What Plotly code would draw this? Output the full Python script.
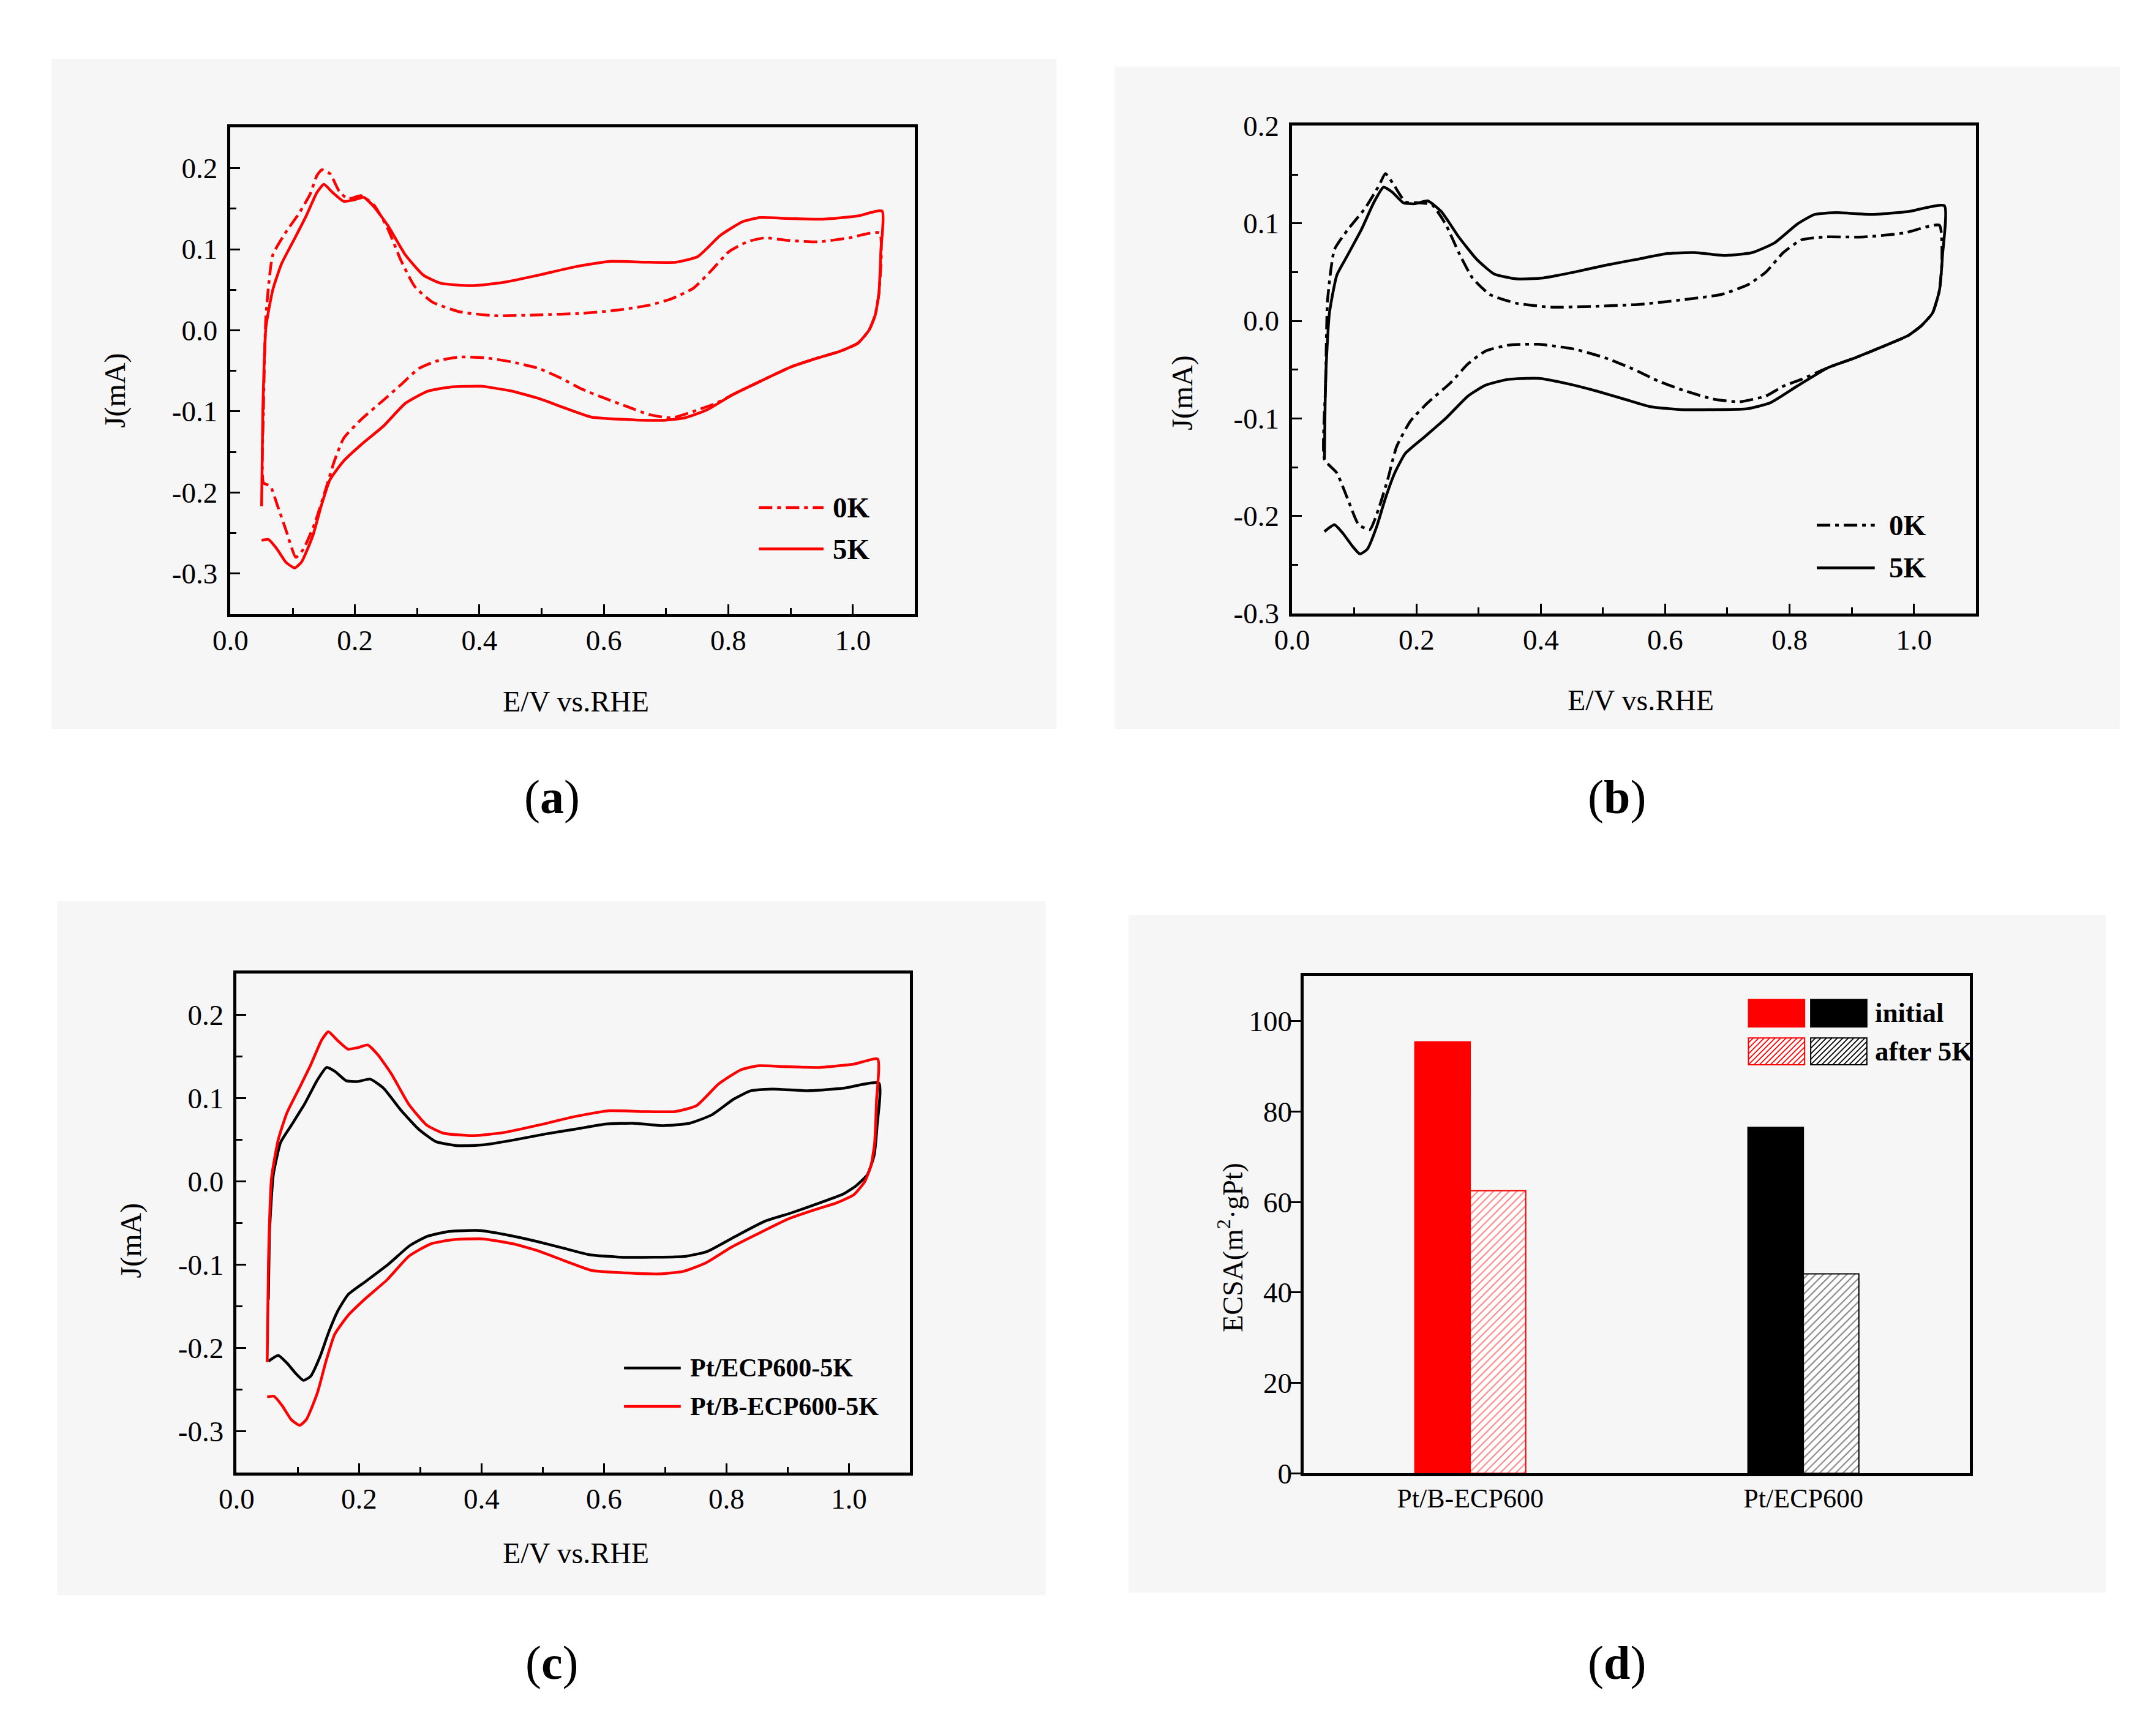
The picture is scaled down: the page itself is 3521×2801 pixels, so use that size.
import plotly.graph_objects as go

# figure size; the page body keeps its default 8px margin
W, H = 3505, 2785
OFF = 8
# measured shift/scale between figure pixels and the captured picture
SX, BX = 0.9953, 24.4
SY, BY = 0.9867, 20.8
FONT = "Liberation Serif"

RED = "#ff0000"
BLACK = "#000000"
DASHDOT = "22px,8px,6px,8px"


def px_x(x):
    return ((x - BX) / SX - OFF) / W


def px_y(y):
    return 1 - ((y - BY) / SY - OFF) / H


# ---------------- data ----------------
# (a) red sample, 0K (dash-dot) and 5K (solid), anodic then cathodic sweep
a_0k_up_E = [0.053, 0.053, 0.057, 0.068, 0.089, 0.110, 0.128, 0.139, 0.147, 0.160,
             0.175, 0.189, 0.210, 0.231, 0.253, 0.274, 0.296, 0.324, 0.367, 0.424,
             0.495, 0.566, 0.623, 0.673, 0.709, 0.744, 0.773, 0.801, 0.830, 0.858,
             0.894, 0.944, 0.994, 1.043]
a_0k_up_J = [-0.188, -0.098, 0.018, 0.093, 0.121, 0.144, 0.168, 0.191, 0.198, 0.193,
             0.171, 0.162, 0.166, 0.154, 0.125, 0.086, 0.054, 0.035, 0.023, 0.018,
             0.019, 0.021, 0.025, 0.031, 0.039, 0.052, 0.074, 0.097, 0.109, 0.114,
             0.111, 0.109, 0.114, 0.120]
a_0k_dn_E = [1.042, 1.036, 1.026, 1.008, 0.979, 0.944, 0.901, 0.851, 0.808, 0.780,
             0.744, 0.709, 0.673, 0.637, 0.602, 0.566, 0.531, 0.495, 0.452, 0.410,
             0.367, 0.331, 0.303, 0.274, 0.246, 0.210, 0.182, 0.167, 0.153, 0.135,
             0.117, 0.105, 0.089, 0.075, 0.064, 0.053]
a_0k_dn_J = [0.046, 0.019, 0.000, -0.016, -0.026, -0.034, -0.045, -0.063, -0.079, -0.090,
             -0.100, -0.108, -0.104, -0.094, -0.084, -0.073, -0.059, -0.047, -0.039, -0.034,
             -0.033, -0.038, -0.047, -0.067, -0.086, -0.110, -0.133, -0.161, -0.196, -0.239,
             -0.270, -0.280, -0.246, -0.215, -0.192, -0.188]

a_5k_up_E = [0.050, 0.052, 0.057, 0.068, 0.082, 0.103, 0.121, 0.139, 0.150, 0.164,
             0.182, 0.199, 0.214, 0.231, 0.253, 0.281, 0.310, 0.338, 0.388, 0.438,
             0.495, 0.552, 0.609, 0.666, 0.716, 0.751, 0.787, 0.823, 0.851, 0.894,
             0.951, 1.008, 1.047]
a_5k_up_J = [-0.217, -0.098, 0.004, 0.050, 0.082, 0.113, 0.140, 0.170, 0.180, 0.170,
             0.159, 0.161, 0.164, 0.152, 0.129, 0.093, 0.068, 0.058, 0.055, 0.059,
             0.068, 0.078, 0.085, 0.084, 0.084, 0.091, 0.117, 0.134, 0.139, 0.138,
             0.137, 0.141, 0.147]
a_5k_dn_E = [1.045, 1.042, 1.036, 1.026, 1.008, 0.979, 0.944, 0.901, 0.851, 0.808,
             0.766, 0.730, 0.694, 0.637, 0.580, 0.538, 0.495, 0.452, 0.402, 0.353,
             0.317, 0.281, 0.246, 0.210, 0.182, 0.160, 0.146, 0.132, 0.114, 0.103,
             0.089, 0.075, 0.061, 0.050]
a_5k_dn_J = [0.097, 0.046, 0.019, 0.000, -0.016, -0.026, -0.034, -0.045, -0.063, -0.079,
             -0.098, -0.108, -0.111, -0.110, -0.107, -0.096, -0.084, -0.075, -0.069, -0.070,
             -0.075, -0.090, -0.118, -0.141, -0.161, -0.184, -0.216, -0.254, -0.286, -0.293,
             -0.286, -0.270, -0.258, -0.259]

# (b) black sample
b_0k_up_E = [0.052, 0.054, 0.057, 0.068, 0.089, 0.118, 0.140, 0.150, 0.164, 0.182,
             0.204, 0.225, 0.247, 0.268, 0.290, 0.318, 0.361, 0.418, 0.490, 0.561,
             0.633, 0.690, 0.733, 0.762, 0.790, 0.819, 0.855, 0.919, 0.984, 1.041]
b_0k_up_J = [-0.142, -0.064, 0.021, 0.073, 0.093, 0.116, 0.139, 0.151, 0.139, 0.122,
             0.121, 0.119, 0.099, 0.070, 0.044, 0.027, 0.018, 0.014, 0.015, 0.017,
             0.022, 0.027, 0.037, 0.050, 0.070, 0.083, 0.086, 0.086, 0.090, 0.098]
b_0k_dn_E = [1.045, 1.041, 1.030, 1.012, 0.991, 0.955, 0.905, 0.862, 0.819, 0.790,
             0.762, 0.719, 0.676, 0.633, 0.590, 0.547, 0.504, 0.454, 0.397, 0.347,
             0.311, 0.283, 0.254, 0.218, 0.190, 0.168, 0.154, 0.140, 0.125, 0.107,
             0.089, 0.072, 0.052]
b_0k_dn_J = [0.060, 0.031, 0.008, -0.005, -0.015, -0.025, -0.038, -0.048, -0.060, -0.067,
             -0.077, -0.083, -0.080, -0.072, -0.062, -0.049, -0.038, -0.029, -0.024, -0.025,
             -0.031, -0.044, -0.064, -0.084, -0.103, -0.129, -0.162, -0.191, -0.214, -0.209,
             -0.182, -0.156, -0.142]

b_5k_up_E = [0.052, 0.054, 0.060, 0.072, 0.089, 0.111, 0.132, 0.147, 0.161, 0.179,
             0.197, 0.218, 0.240, 0.268, 0.297, 0.325, 0.361, 0.404, 0.454, 0.504,
             0.554, 0.604, 0.647, 0.697, 0.740, 0.776, 0.812, 0.840, 0.876, 0.933,
             0.991, 1.049]
b_5k_up_J = [-0.142, -0.058, 0.008, 0.047, 0.067, 0.093, 0.122, 0.137, 0.132, 0.121,
             0.120, 0.123, 0.112, 0.086, 0.063, 0.048, 0.043, 0.044, 0.050, 0.057,
             0.063, 0.069, 0.070, 0.067, 0.070, 0.080, 0.099, 0.109, 0.111, 0.109,
             0.112, 0.118]
b_5k_dn_E = [1.046, 1.041, 1.030, 1.012, 0.991, 0.955, 0.905, 0.862, 0.812, 0.769,
             0.733, 0.683, 0.626, 0.576, 0.533, 0.490, 0.447, 0.397, 0.347, 0.311,
             0.283, 0.247, 0.211, 0.182, 0.165, 0.150, 0.136, 0.121, 0.109, 0.097,
             0.082, 0.068, 0.052]
b_5k_dn_J = [0.067, 0.031, 0.008, -0.005, -0.015, -0.025, -0.038, -0.048, -0.067, -0.084,
             -0.090, -0.091, -0.091, -0.088, -0.080, -0.072, -0.065, -0.059, -0.060, -0.066,
             -0.077, -0.100, -0.120, -0.136, -0.156, -0.182, -0.211, -0.234, -0.239, -0.231,
             -0.218, -0.209, -0.216]

# (d) ECSA bars
ecsa_samples = ["Pt/B-ECP600", "Pt/ECP600"]
ecsa_initial = [95.4, 76.5]
ecsa_after5k = [62.5, 44.1]
ecsa_colors = [RED, BLACK]

# tick labels
cv_x_ticks = [0.0, 0.2, 0.4, 0.6, 0.8, 1.0]
cv_x_text = ["0.0", "0.2", "0.4", "0.6", "0.8", "1.0"]
cv_y_ticks = [-0.3, -0.2, -0.1, 0.0, 0.1, 0.2]
cv_y_text = ["-0.3", "-0.2", "-0.1", "0.0", "0.1", "0.2"]
ecsa_y_ticks = [0, 20, 40, 60, 80, 100]
ecsa_y_text = ["0", "20", "40", "60", "80", "100"]

# ---------------- figure ----------------
fig = go.Figure()


def add_cv(E_up, J_up, E_dn, J_dn, color, dash, ax):
    fig.add_trace(go.Scatter(
        x=E_up + E_dn, y=J_up + J_dn, mode="lines",
        line=dict(color=color, width=4.5, dash=dash, shape="spline", smoothing=0.5),
        xaxis="x" + ax, yaxis="y" + ax, showlegend=False, hoverinfo="skip"))


add_cv(a_0k_up_E, a_0k_up_J, a_0k_dn_E, a_0k_dn_J, RED, DASHDOT, "")
add_cv(a_5k_up_E, a_5k_up_J, a_5k_dn_E, a_5k_dn_J, RED, "solid", "")
add_cv(b_0k_up_E, b_0k_up_J, b_0k_dn_E, b_0k_dn_J, BLACK, DASHDOT, "2")
add_cv(b_5k_up_E, b_5k_up_J, b_5k_dn_E, b_5k_dn_J, BLACK, "solid", "2")
# (c) compares the two 5K curves
add_cv(b_5k_up_E, b_5k_up_J, b_5k_dn_E, b_5k_dn_J, BLACK, "solid", "3")
add_cv(a_5k_up_E, a_5k_up_J, a_5k_dn_E, a_5k_dn_J, RED, "solid", "3")

fig.add_trace(go.Bar(
    x=ecsa_samples, y=ecsa_initial, name="initial",
    marker=dict(color=ecsa_colors, line=dict(color=ecsa_colors, width=2)),
    xaxis="x4", yaxis="y4", showlegend=False, hoverinfo="skip"))
fig.add_trace(go.Bar(
    x=ecsa_samples, y=ecsa_after5k, name="after 5K",
    marker=dict(color="white", line=dict(color=ecsa_colors, width=2),
                pattern=dict(shape="/", fgcolor=ecsa_colors, bgcolor="white",
                             size=9, solidity=0.22)),
    xaxis="x4", yaxis="y4", showlegend=False, hoverinfo="skip"))

tickfont = dict(family=FONT, size=47, color="black")
frame = dict(showline=True, linecolor="black", linewidth=4.5, mirror=True,
             showgrid=False, zeroline=False)


def cv_axes(n, xpx, ypx, yrange):
    xa = dict(frame, domain=[px_x(xpx[0]), px_x(xpx[1])], range=[0, 1.1],
              anchor="y" + n, tickmode="array", tickvals=cv_x_ticks, ticktext=cv_x_text,
              ticks="inside", ticklen=16, tickwidth=3, tickcolor="black",
              minor=dict(ticks="inside", ticklen=10, tickwidth=3, tickcolor="black",
                         tick0=0, dtick=0.1),
              tickfont=tickfont, ticklabelstandoff=-2)
    ya = dict(frame, domain=[px_y(ypx[1]), px_y(ypx[0])], range=yrange,
              anchor="x" + n, tickmode="array", tickvals=cv_y_ticks, ticktext=cv_y_text,
              ticks="inside", ticklen=16, tickwidth=3, tickcolor="black",
              minor=dict(ticks="inside", ticklen=10, tickwidth=3, tickcolor="black",
                         tick0=0, dtick=0.05),
              tickfont=tickfont, ticklabelstandoff=7)
    fig.update_layout(**{"xaxis" + n: xa, "yaxis" + n: ya})


cv_axes("", (373, 1495), (204, 1003), [-0.35, 0.25])
cv_axes("2", (2113, 3234), (201, 1002), [-0.3, 0.2])
cv_axes("3", (383, 1487), (1593, 2413), [-0.35, 0.25])

fig.update_layout(
    xaxis4=dict(frame, domain=[px_x(2132), px_x(3224)], anchor="y4", type="category",
                range=[-0.5, 1.5], ticks="", tickfont=dict(family=FONT, size=44, color="black"),
                ticklabelstandoff=-2),
    yaxis4=dict(frame, domain=[px_y(2414), px_y(1597)], anchor="x4", range=[0, 110],
                tickmode="array", tickvals=ecsa_y_ticks, ticktext=ecsa_y_text,
                ticks="outside", ticklen=17, tickwidth=3, tickcolor="black",
                tickfont=dict(family=FONT, size=47, color="black"), ticklabelstandoff=-12),
    barmode="group", bargap=0.667, bargroupgap=0,
)

# ---------------- decorations ----------------
shapes = []
# light scanned background behind each panel
for x0, y0, x1, y1 in [(80, 91, 1727, 1192), (1822, 104, 3470, 1192),
                       (89, 1474, 1709, 2614), (1845, 1497, 3447, 2610)]:
    shapes.append(dict(type="rect", xref="paper", yref="paper", layer="below",
                       x0=px_x(x0), x1=px_x(x1), y0=px_y(y1), y1=px_y(y0),
                       fillcolor="#f6f6f7", line=dict(width=0)))


def legend_line(x0, x1, y, color, dash):
    shapes.append(dict(type="line", xref="paper", yref="paper",
                       x0=px_x(x0), x1=px_x(x1), y0=px_y(y), y1=px_y(y),
                       line=dict(color=color, width=4.5, dash=dash)))


legend_line(1239, 1345, 828, RED, DASHDOT)
legend_line(1239, 1345, 896, RED, "solid")
legend_line(2973, 3068, 857, BLACK, DASHDOT)
legend_line(2973, 3068, 927, BLACK, "solid")
legend_line(1018, 1111, 2241, BLACK, "solid")
legend_line(1018, 1111, 2304, RED, "solid")


def swatch(x0, y0, x1, y1, color, hatched):
    shapes.append(dict(type="rect", xref="paper", yref="paper",
                       x0=px_x(x0), x1=px_x(x1), y0=px_y(y1), y1=px_y(y0),
                       fillcolor="white" if hatched else color,
                       line=dict(color=color, width=2)))
    if hatched:
        k = x0 + y0 + 8
        while k < x1 + y1:
            xa = max(x0, k - y1)
            xb = min(x1, k - y0)
            if xa < xb:
                shapes.append(dict(type="line", xref="paper", yref="paper",
                                   x0=px_x(xa), y0=px_y(k - xa), x1=px_x(xb), y1=px_y(k - xb),
                                   line=dict(color=color, width=1.8)))
            k += 9


swatch(2861, 1636, 2953, 1681, RED, False)
swatch(2963, 1636, 3055, 1681, BLACK, False)
swatch(2861, 1699, 2953, 1743, RED, True)
swatch(2963, 1699, 3055, 1743, BLACK, True)

annotations = []


def label(x, y, text, size, anchor="center", angle=0):
    annotations.append(dict(xref="paper", yref="paper", x=px_x(x), y=px_y(y), text=text,
                            showarrow=False, xanchor=anchor, yanchor="middle", textangle=angle,
                            font=dict(family=FONT, size=size, color="black")))


# legend texts
label(1358, 828, "<b>0K</b>", 47, "left")
label(1358, 896, "<b>5K</b>", 47, "left")
label(3089, 857, "<b>0K</b>", 47, "left")
label(3089, 927, "<b>5K</b>", 47, "left")
label(1124, 2241, "<b>Pt/ECP600-5K</b>", 42, "left")
label(1124, 2304, "<b>Pt/B-ECP600-5K</b>", 42, "left")
label(3066, 1658, "<b>initial</b>", 45, "left")
label(3066, 1721, "<b>after 5K</b>", 45, "left")

# axis titles
label(939, 1146, "E/V vs.RHE", 48)
label(184, 636, "J(mA)", 48, angle=-90)
label(2684, 1144, "E/V vs.RHE", 48)
label(1933, 639, "J(mA)", 48, angle=-90)
label(939, 2545, "E/V vs.RHE", 48)
label(210, 2031, "J(mA)", 48, angle=-90)
label(2012, 2043, "ECSA(m<sup>2</sup>·gPt)", 46, angle=-90)

# panel letters
label(900, 1303, "(<b>a</b>)", 78)
label(2645, 1303, "(<b>b</b>)", 78)
label(900, 2725, "(<b>c</b>)", 78)
label(2645, 2725, "(<b>d</b>)", 78)

fig.update_layout(
    width=W, height=H, margin=dict(l=0, r=0, t=0, b=0),
    paper_bgcolor="white", plot_bgcolor="rgba(0,0,0,0)",
    shapes=shapes, annotations=annotations, showlegend=False,
    font=dict(family=FONT, color="black"),
)

fig.write_html("out.html")
